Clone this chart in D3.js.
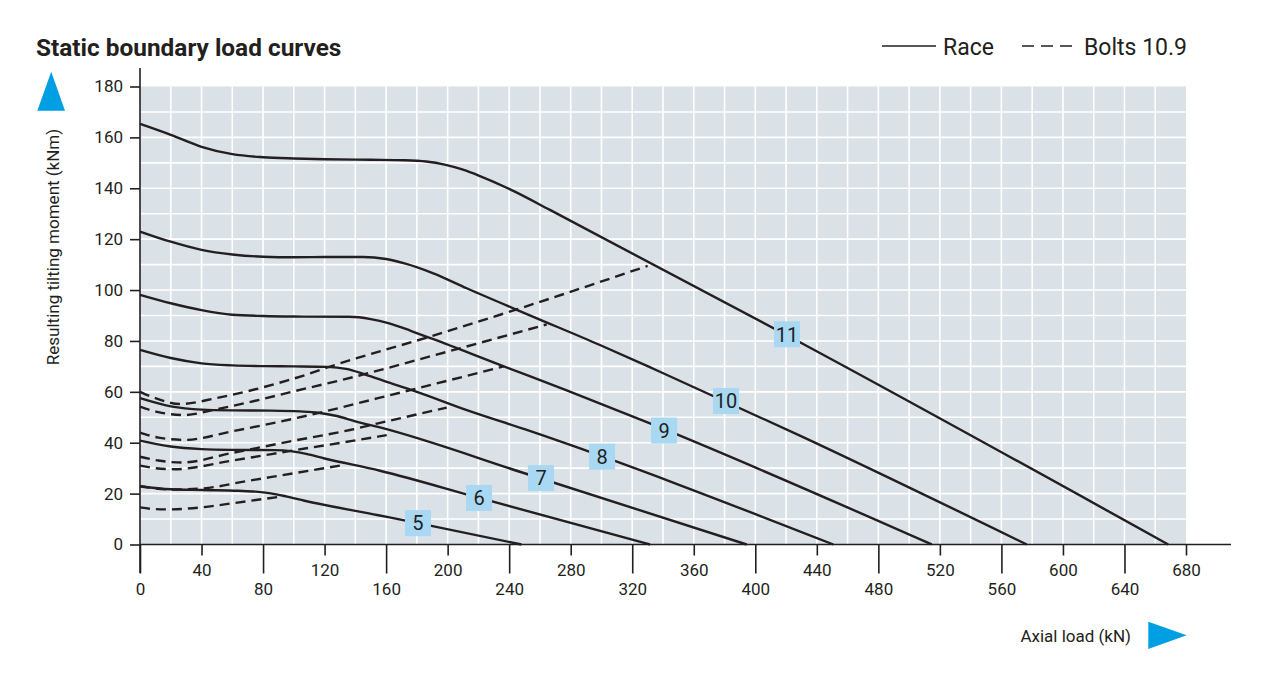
<!DOCTYPE html>
<html>
<head>
<meta charset="utf-8">
<script src="https://cdn.jsdelivr.net/npm/d3@7"></script>
<style>
    body { margin: 0; background: #fff; }
    text { font-family: Roboto, "Noto Sans", sans-serif; fill: #231f20; }
</style>
</head>
<body>
<script>
// tick labels
const xTickValues = [0, 40, 80, 120, 160, 200, 240, 280, 320, 360, 400, 440, 480, 520, 560, 600, 640, 680];
const yTickValues = [0, 20, 40, 60, 80, 100, 120, 140, 160, 180];

// race curves, [axial load kN, tilting moment kNm]
const sizes = ['5', '6', '7', '8', '9', '10', '11'];
const race5 = [[0, 22.8], [20, 21.7], [40, 21.4], [64, 21.1], [75, 20.8], [85, 20.1], [95, 18.9], [107, 17.2], [155, 11.5], [180, 8.5], [248, 0]];
const race6 = [[0, 40.8], [20, 38.5], [40, 37.5], [60, 37.2], [88, 37.1], [98, 36.7], [108, 35.6], [120, 33.8], [156, 29], [220, 18.4], [331.6, 0]];
const race7 = [[0, 57.5], [20, 54.3], [40, 53], [60, 52.7], [85, 52.6], [104, 52.3], [116, 51.8], [128, 50.5], [140, 48.4], [156, 46], [251, 27.8], [394.4, 0]];
const race8 = [[0, 76.5], [20, 73.3], [40, 71.2], [60, 70.4], [80, 70.1], [100, 70], [122, 69.8], [134, 69], [146, 66.9], [162, 63.6], [180, 60], [212, 52.9], [250, 45.3], [450.8, 0]];
const race9 = [[0, 98.1], [20, 94.8], [40, 92.1], [60, 90.3], [80, 89.8], [100, 89.6], [136, 89.5], [150, 88.6], [162, 86.9], [176, 84], [190.7, 80.7], [234, 70.6], [277, 60.7], [334, 47], [514.7, 0]];
const race10 = [[0, 123], [20, 119], [40, 115.8], [60, 114], [80, 113.1], [100, 112.9], [120, 113], [145, 113], [160, 112.2], [172, 110.5], [190.7, 106.6], [212.4, 100.7], [255.7, 89.5], [299, 78.4], [338, 67.9], [429, 42.8], [576.5, 0]];
const race11 = [[0, 165.3], [20, 161], [40, 156.3], [60, 153.4], [80, 152.2], [100, 151.7], [120, 151.4], [150, 151.2], [172, 151], [186, 150.5], [198, 149.3], [210, 147.3], [221, 144.8], [243, 138.9], [266.5, 131.5], [429, 79.5], [668.5, 0]];

// bolt curves 10.9
const bolts5 = [[0, 14.6], [8, 14], [18, 13.8], [40, 14.6], [60, 16.2], [91, 18.8]];
const bolts6 = [[0, 23], [20, 21.6], [40, 22], [70, 25], [100, 28], [132, 31.2]];
const bolts7 = [[0, 31], [10, 30], [22.5, 29.6], [60, 33], [100, 37], [154.7, 42.4], [160.4, 43]];
const bolts8 = [[0, 34.5], [12, 33], [27, 32.2], [60, 36], [100, 40.8], [136.5, 45], [154.7, 47.6], [199.4, 53.8]];
const bolts9 = [[0, 44], [12, 42], [29, 41.1], [60, 44.5], [110.5, 50.9], [154.7, 57.5], [236.5, 70]];
const bolts10 = [[0, 54.2], [12, 52], [29, 50.9], [50, 53.2], [75, 56.5], [100, 60.2], [130, 64.5], [200, 75.8], [264.4, 86.5]];
const bolts11 = [[0, 60], [10, 57.5], [26, 55.2], [50, 57.6], [75, 61], [96, 64.5], [108, 66.7], [123.5, 69.9], [188.5, 81.7], [247, 92.8], [330, 109.5]];

// where the size labels sit on the race curves
const labelPos = [[180.7, 8.4], [220.4, 18.3], [260.7, 26.1], [300.4, 34.5], [340.7, 44.8], [381, 56.4], [420.6, 82.6]];

const raceCurves = [race5, race6, race7, race8, race9, race10, race11];
const boltCurves = [bolts5, bolts6, bolts7, bolts8, bolts9, bolts10, bolts11];

let w = 1267,
    h = 685;

let svg = d3.select('body')
    .append('svg')
    .attr('width', w)
    .attr('height', h);

let x = d3.scaleLinear().domain([0, 680]).range([140, 1186]);
let y = d3.scaleLinear().domain([0, 180]).range([544.5, 86.5]);

// plot background
svg.append('rect')
    .attr('x', x(0))
    .attr('y', y(180))
    .attr('width', x(680) - x(0))
    .attr('height', y(0) - y(180))
    .attr('fill', '#dae1e7');

// grid
let grid = svg.append('g').attr('stroke', '#fff').attr('stroke-width', 1.6);
grid.selectAll('.gx')
    .data(d3.range(20, 680, 20))
    .enter()
    .append('line')
    .attr('x1', d => x(d)).attr('x2', d => x(d))
    .attr('y1', y(0)).attr('y2', y(180));
grid.selectAll('.gy')
    .data(d3.range(10, 180, 10))
    .enter()
    .append('line')
    .attr('x1', x(0)).attr('x2', x(680))
    .attr('y1', d => y(d)).attr('y2', d => y(d));

// curves
let line = d3.line()
    .x(d => x(d[0]))
    .y(d => y(d[1]))
    .curve(d3.curveMonotoneX);

svg.append('g')
    .selectAll('path')
    .data(boltCurves)
    .enter()
    .append('path')
    .attr('d', line)
    .attr('fill', 'none')
    .attr('stroke', '#231f20')
    .attr('stroke-width', 2.4)
    .attr('stroke-dasharray', '10,6');

svg.append('g')
    .selectAll('path')
    .data(raceCurves)
    .enter()
    .append('path')
    .attr('d', line)
    .attr('fill', 'none')
    .attr('stroke', '#231f20')
    .attr('stroke-width', 2.4)
    .attr('stroke-linejoin', 'round');

// size labels
let labels = svg.append('g')
    .selectAll('g')
    .data(sizes)
    .enter()
    .append('g')
    .attr('transform', (d, i) => `translate(${x(labelPos[i][0])},${y(labelPos[i][1])})`);
labels.append('rect')
    .attr('x', -13).attr('y', -13)
    .attr('width', 26).attr('height', 26)
    .attr('fill', '#a8d8f2');
labels.append('text')
    .attr('text-anchor', 'middle')
    .attr('dy', '0.36em')
    .style('font-size', '20px')
    .text(d => d);

// x axis
let xAxis = svg.append('g')
    .attr('transform', `translate(0,${y(0)})`)
    .call(d3.axisBottom(x).tickValues(xTickValues).tickSizeOuter(0));
xAxis.select('.domain').remove();
xAxis.selectAll('.tick line')
    .attr('stroke', '#231f20')
    .attr('stroke-width', 1.6)
    .attr('y2', (d, i) => i % 2 === 0 ? 29 : 11);
xAxis.selectAll('.tick text')
    .attr('y', (d, i) => i % 2 === 0 ? 44 : 25)
    .attr('dy', '0.36em')
    .style('font-size', '17px')
    .style('font-family', 'Roboto, sans-serif')
    .attr('fill', '#231f20');
svg.append('line')
    .attr('x1', x(0)).attr('x2', 1231)
    .attr('y1', y(0)).attr('y2', y(0))
    .attr('stroke', '#231f20')
    .attr('stroke-width', 1.6);

// y axis
let yAxis = svg.append('g')
    .attr('transform', `translate(${x(0)},0)`)
    .call(d3.axisLeft(y).tickValues(yTickValues).tickSize(10).tickPadding(7).tickSizeOuter(0));
yAxis.select('.domain').remove();
yAxis.selectAll('.tick line')
    .attr('stroke', '#231f20')
    .attr('stroke-width', 1.6);
yAxis.selectAll('.tick text')
    .style('font-size', '17px')
    .style('font-family', 'Roboto, sans-serif')
    .attr('fill', '#231f20');
svg.append('line')
    .attr('x1', x(0)).attr('x2', x(0))
    .attr('y1', 68).attr('y2', 573)
    .attr('stroke', '#231f20')
    .attr('stroke-width', 1.6);

// axis titles and arrows
svg.append('text')
    .attr('transform', 'translate(59,247) rotate(-90)')
    .attr('text-anchor', 'middle')
    .style('font-size', '17px')
    .text('Resulting tilting moment (kNm)');
svg.append('path')
    .attr('d', 'M51.2,71.7 L65,110.7 L37.3,110.7 Z')
    .attr('fill', '#009fe3');

svg.append('text')
    .attr('x', 1131)
    .attr('y', 636)
    .attr('dy', '0.36em')
    .attr('text-anchor', 'end')
    .style('font-size', '17px')
    .text('Axial load (kN)');
svg.append('path')
    .attr('d', 'M1148.3,621.7 L1186.7,635.3 L1148.3,649 Z')
    .attr('fill', '#009fe3');

// title
svg.append('text')
    .attr('x', 36)
    .attr('y', 47)
    .attr('dy', '0.36em')
    .style('font-size', '24.4px')
    .style('font-weight', 'bold')
    .text('Static boundary load curves');

// legend
svg.append('line')
    .attr('x1', 882).attr('x2', 936)
    .attr('y1', 46).attr('y2', 46)
    .attr('stroke', '#231f20')
    .attr('stroke-width', 1.6);
svg.append('text')
    .attr('x', 943).attr('y', 47)
    .attr('dy', '0.36em')
    .style('font-size', '23px')
    .text('Race');
svg.append('line')
    .attr('x1', 1022).attr('x2', 1072)
    .attr('y1', 46).attr('y2', 46)
    .attr('stroke', '#231f20')
    .attr('stroke-width', 1.6)
    .attr('stroke-dasharray', '12,7');
svg.append('text')
    .attr('x', 1084).attr('y', 47)
    .attr('dy', '0.36em')
    .style('font-size', '23px')
    .text('Bolts 10.9');
</script>
</body>
</html>
